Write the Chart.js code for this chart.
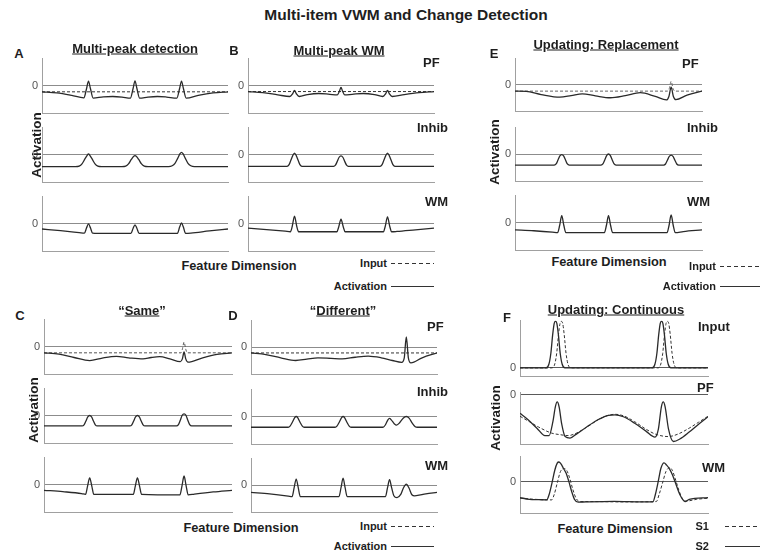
<!DOCTYPE html>
<html>
<head>
<meta charset="utf-8">
<script src="https://cdn.jsdelivr.net/npm/chart.js@4"></script>
<style>
body{margin:0;background:#fff}
#fig{position:relative;width:760px;height:553px;overflow:hidden;background:#fff;font-family:"Liberation Sans",Arial,sans-serif;color:#1e1e1e}
.t{position:absolute;white-space:nowrap;font-weight:bold;line-height:1}
.c{transform:translate(-50%,-50%)}
.l{transform:translateY(-50%)}
.r{transform:translate(-100%,-50%)}
.v{transform:translate(-50%,-50%) rotate(-90deg)}
canvas{position:absolute}
.key{position:absolute;height:1px}
</style>
</head>
<body>
<div id="fig"></div>
<script>
// ---- data: [feature position (0-100), activation] ----
// A: multi-peak detection
const aPfInput = [[0,-0.23],[100,-0.23]];
const aPfAct = [[0,-0.23],[8,-0.27],[16,-0.36],[22.5,-0.45],[24,-0.1],[25,0.16],[26,-0.1],[27.5,-0.46],[33,-0.41],[38,-0.40],[43,-0.42],[47.5,-0.46],[49,-0.1],[50,0.17],[51,-0.1],[52.5,-0.46],[57,-0.42],[62,-0.40],[67,-0.42],[72.5,-0.46],[74,-0.1],[75,0.16],[76,-0.1],[77.5,-0.46],[84,-0.36],[92,-0.27],[100,-0.23]];
const aInhib = [[0,-0.44],[18,-0.44],[20,-0.42],[21.5,-0.34],[23,-0.17],[24.2,-0.04],[25,0.02],[25.8,-0.04],[27,-0.17],[28.5,-0.34],[30,-0.42],[32,-0.44],[43,-0.44],[45,-0.42],[46.5,-0.34],[48,-0.18],[49.2,-0.07],[50,-0.04],[50.8,-0.07],[52,-0.18],[53.5,-0.34],[55,-0.42],[57,-0.44],[68,-0.44],[70,-0.41],[71.5,-0.32],[73,-0.13],[74.2,0.03],[75,0.08],[75.8,0.03],[77,-0.13],[78.5,-0.32],[80,-0.41],[82,-0.44],[100,-0.44]];
const aWm = [[0,-0.20],[10,-0.26],[20,-0.33],[22.8,-0.35],[24,-0.15],[25,-0.01],[26,-0.15],[27.2,-0.35],[30,-0.36],[47.8,-0.36],[49,-0.17],[50,-0.05],[51,-0.17],[52.2,-0.36],[72.8,-0.36],[74,-0.13],[75,0.02],[76,-0.13],[77.2,-0.36],[80,-0.35],[90,-0.27],[100,-0.20]];

// B: multi-peak WM
const bPfInput = [[0,-0.22],[100,-0.22]];
const bPfAct = [[0,-0.22],[8,-0.26],[16,-0.34],[22.5,-0.40],[24,-0.3],[25,-0.18],[26,-0.3],[27.5,-0.40],[32,-0.33],[38,-0.29],[44,-0.32],[48,-0.34],[49.2,-0.2],[50,-0.07],[50.8,-0.2],[52,-0.34],[56,-0.32],[62,-0.29],[68,-0.33],[72.5,-0.40],[74,-0.3],[75,-0.18],[76,-0.3],[77.5,-0.40],[84,-0.33],[92,-0.26],[100,-0.22]];
const bInhib = [[0,-0.43],[21,-0.43],[22,-0.38],[23,-0.22],[24,-0.05],[25,0.05],[26,-0.05],[27,-0.22],[28,-0.38],[29,-0.43],[46,-0.43],[47,-0.39],[48,-0.25],[49,-0.1],[50,-0.05],[51,-0.1],[52,-0.25],[53,-0.39],[54,-0.43],[71,-0.43],[72,-0.38],[73,-0.22],[74,-0.05],[75,0.05],[76,-0.05],[77,-0.22],[78,-0.38],[79,-0.43],[100,-0.43]];
const bWm = [[0,-0.17],[10,-0.22],[20,-0.28],[22.8,-0.30],[23.8,-0.1],[25,0.27],[26.2,-0.1],[27.2,-0.30],[47.8,-0.30],[48.8,-0.12],[50,0.16],[51.2,-0.12],[52.2,-0.30],[72.8,-0.30],[73.8,-0.1],[75,0.24],[76.2,-0.1],[77.2,-0.30],[80,-0.29],[90,-0.23],[100,-0.17]];

// E: updating, replacement
const ePfInput = [[0,-0.25],[81.5,-0.25],[82.5,-0.15],[83.5,0.12],[84.5,-0.15],[85.5,-0.25],[100,-0.25]];
const ePfAct = [[0,-0.25],[6,-0.26],[14,-0.38],[24,-0.48],[30,-0.42],[36,-0.35],[43,-0.43],[51,-0.50],[59,-0.42],[67,-0.31],[75,-0.45],[81,-0.58],[82.3,-0.45],[83.5,-0.1],[84.7,-0.45],[86,-0.57],[92,-0.40],[100,-0.25]];
const eInhib = [[0,-0.41],[21,-0.41],[22,-0.37],[23,-0.22],[24,-0.07],[25,-0.02],[26,-0.07],[27,-0.22],[28,-0.37],[29,-0.41],[46,-0.41],[47,-0.37],[48,-0.22],[49,-0.06],[50,0],[51,-0.06],[52,-0.22],[53,-0.37],[54,-0.41],[79.5,-0.41],[80.5,-0.37],[81.5,-0.23],[82.5,-0.09],[83.5,-0.04],[84.5,-0.09],[85.5,-0.23],[86.5,-0.37],[87.5,-0.41],[100,-0.41]];
const eWm = [[0,-0.27],[10,-0.30],[20,-0.35],[22.8,-0.37],[23.9,-0.1],[25,0.25],[26.1,-0.1],[27.2,-0.37],[47.8,-0.37],[48.9,-0.1],[50,0.25],[51.1,-0.1],[52.2,-0.37],[81.3,-0.37],[82.4,-0.1],[83.5,0.28],[84.6,-0.1],[85.7,-0.37],[90,-0.33],[100,-0.27]];

// C: "same"
const cPfInput = [[0,-0.23],[72.8,-0.23],[73.6,-0.1],[74.5,0.16],[75.4,-0.1],[76.2,-0.23],[100,-0.23]];
const cPfAct = [[0,-0.23],[8,-0.28],[16,-0.40],[24.3,-0.51],[31,-0.42],[38.5,-0.36],[45,-0.41],[52.7,-0.45],[57,-0.40],[61.5,-0.37],[67,-0.45],[72.5,-0.55],[73.6,-0.45],[74.5,-0.2],[75.4,-0.45],[76.6,-0.57],[84,-0.42],[92,-0.29],[100,-0.23]];
const cInhib = [[0,-0.38],[20.3,-0.38],[21.3,-0.34],[22.3,-0.2],[23.3,-0.05],[24.3,0],[25.3,-0.05],[26.3,-0.2],[27.3,-0.34],[28.3,-0.38],[45.7,-0.38],[46.7,-0.34],[47.7,-0.2],[48.7,-0.05],[49.7,0],[50.7,-0.05],[51.7,-0.2],[52.7,-0.34],[53.7,-0.38],[70.5,-0.38],[71.5,-0.33],[72.5,-0.17],[73.5,0.01],[74.5,0.06],[75.5,0.01],[76.5,-0.17],[77.5,-0.33],[78.5,-0.38],[100,-0.38]];
const cWm = [[0,-0.21],[10,-0.26],[20,-0.33],[22.1,-0.36],[23.2,-0.05],[24.3,0.24],[25.4,-0.05],[26.5,-0.36],[47.5,-0.36],[48.6,-0.05],[49.7,0.24],[50.8,-0.05],[51.9,-0.36],[72.3,-0.38],[73.4,-0.05],[74.5,0.31],[75.6,-0.05],[76.7,-0.38],[80,-0.35],[90,-0.27],[100,-0.21]];

// D: "different"
const dPfInput = [[0,-0.22],[100,-0.22]];
const dPfAct = [[0,-0.22],[8,-0.28],[16,-0.40],[24,-0.50],[30,-0.45],[36,-0.40],[43,-0.42],[49,-0.44],[56,-0.38],[63,-0.34],[70,-0.40],[76,-0.50],[81,-0.57],[82.4,-0.4],[83.5,0.37],[84.6,-0.4],[86,-0.59],[92,-0.40],[100,-0.22]];
const dInhib = [[0,-0.39],[20,-0.39],[21,-0.35],[22.3,-0.2],[23.5,-0.04],[24.3,0],[25.1,-0.04],[26.3,-0.2],[27.6,-0.35],[28.6,-0.39],[45.2,-0.39],[46.2,-0.35],[47.5,-0.2],[48.7,-0.04],[49.5,0],[50.3,-0.04],[51.5,-0.2],[52.8,-0.35],[53.8,-0.39],[71,-0.39],[72.3,-0.3],[73.6,-0.12],[74.5,-0.07],[75.5,-0.13],[77,-0.26],[78.3,-0.31],[80,-0.22],[81.8,-0.06],[83.5,0],[85,-0.06],[86.8,-0.25],[88.3,-0.37],[89.5,-0.39],[100,-0.39]];
const dWm = [[0,-0.27],[10,-0.33],[20,-0.41],[22.1,-0.43],[23.2,-0.1],[24.3,0.22],[25.4,-0.1],[26.5,-0.43],[47.3,-0.43],[48.4,-0.1],[49.5,0.25],[50.6,-0.1],[51.7,-0.43],[72.3,-0.43],[73.4,-0.1],[74.5,0.2],[75.6,-0.1],[76.8,-0.40],[78.5,-0.47],[80.5,-0.35],[82,-0.1],[83.5,0.03],[85,-0.12],[86.5,-0.36],[88,-0.40],[94,-0.33],[100,-0.27]];

// F: updating, continuous (S1 dashed, S2 solid)
const fInS1 = [[0,0],[17,0],[18.5,0.08],[19.5,0.3],[20.5,0.7],[21.3,0.93],[22,0.97],[22.7,0.93],[23.5,0.7],[24.5,0.3],[25.5,0.08],[27,0],[73.4,0],[74.9,0.08],[75.9,0.3],[76.9,0.7],[77.7,0.93],[78.4,0.97],[79.1,0.93],[79.9,0.7],[80.9,0.3],[81.9,0.08],[83.4,0],[100,0]];
const fInS2 = [[0,0],[13.9,0],[15.4,0.08],[16.4,0.3],[17.4,0.7],[18.2,0.93],[18.9,0.97],[19.6,0.93],[20.4,0.7],[21.4,0.3],[22.4,0.08],[23.9,0],[70.3,0],[71.8,0.08],[72.8,0.3],[73.8,0.7],[74.6,0.93],[75.3,0.97],[76,0.93],[76.8,0.7],[77.8,0.3],[78.8,0.08],[80.3,0],[100,0]];
const fPfS1 = [[0,-0.44],[5,-0.55],[10,-0.66],[16.8,-0.78],[21,-0.81],[25.7,-0.83],[30,-0.78],[36,-0.65],[42,-0.50],[47,-0.42],[50.5,-0.40],[55,-0.43],[61,-0.55],[67,-0.70],[72,-0.80],[78.9,-0.85],[84,-0.80],[90,-0.68],[95,-0.56],[100,-0.44]];
const fPfS2 = [[0,-0.38],[4,-0.50],[9,-0.68],[13.3,-0.83],[15.5,-0.83],[17.5,-0.55],[18.8,-0.25],[19.8,-0.15],[20.8,-0.25],[22.2,-0.6],[24,-0.85],[26.6,-0.88],[30,-0.80],[36,-0.64],[42,-0.50],[47,-0.42],[50.5,-0.41],[55,-0.45],[61,-0.58],[67,-0.74],[71.8,-0.86],[73.6,-0.7],[75.2,-0.25],[76.2,-0.15],[77.2,-0.25],[79,-0.7],[81.6,-0.95],[85,-0.90],[90,-0.76],[95,-0.60],[100,-0.45]];
const fWmS1 = [[0,-0.58],[8,-0.62],[16.8,-0.64],[18.2,-0.45],[19.8,-0.05],[21.5,0.35],[23.4,0.46],[24.8,0.40],[26.3,0.15],[28,-0.25],[29.8,-0.58],[31.9,-0.70],[40,-0.70],[55,-0.71],[72.5,-0.70],[74,-0.45],[75.8,-0.05],[77.6,0.35],[79.6,0.49],[81,0.40],[82.6,0.1],[84.5,-0.3],[86.4,-0.6],[88.5,-0.68],[94,-0.62],[100,-0.58]];
const fWmS2 = [[0,-0.56],[5,-0.62],[10,-0.63],[14.2,-0.64],[15.5,-0.45],[17,-0.05],[18.5,0.4],[19.8,0.65],[20.7,0.69],[21.8,0.62],[23,0.48],[24.5,0.30],[26,0],[27.5,-0.35],[29,-0.62],[31,-0.72],[35,-0.71],[50,-0.69],[65,-0.71],[70.7,-0.71],[72,-0.45],[73.5,0],[75,0.48],[76.6,0.66],[78,0.58],[79.5,0.45],[81,0.25],[83,-0.1],[85,-0.45],[87.8,-0.70],[90,-0.62],[100,-0.56]];

// ---- drawing ----
const FONT = '"Liberation Sans", Arial, sans-serif';
Chart.defaults.font.family = FONT;
const fig = document.getElementById('fig');
const AXW = 16, PT = 7, PB = 3, PR = 3;
const LINE = '#2a2a2a', AXIS = '#a0a0a0', ZERO = '#8c8c8c', ZERO_F = '#5a5a5a';

function pts(a) { return a.map(p => ({x: p[0], y: p[1]})); }

function act(d) { return {d: d, c: LINE, w: 1.3}; }
function inp(d, c) { return {d: d, c: c || '#333', w: 1, dash: [3, 2]}; }

function plot(x, y, w, h, ymin, ymax, series, zc) {
  const cv = document.createElement('canvas');
  const W = AXW + w + PR, H = PT + h + PB;
  cv.width = W; cv.height = H;
  cv.style.left = (x - AXW) + 'px';
  cv.style.top = (y - PT) + 'px';
  cv.style.width = W + 'px';
  cv.style.height = H + 'px';
  fig.appendChild(cv);
  new Chart(cv, {
    type: 'line',
    data: {
      datasets: series.map(s => ({
        data: pts(s.d),
        borderColor: s.c,
        borderWidth: s.w,
        borderDash: s.dash || [],
        pointRadius: 0,
        fill: false,
        cubicInterpolationMode: 'monotone'
      }))
    },
    options: {
      responsive: false,
      animation: false,
      devicePixelRatio: 1,
      events: [],
      layout: {padding: {top: PT, right: PR, bottom: 0, left: 0}},
      plugins: {legend: {display: false}, tooltip: {enabled: false}},
      scales: {
        x: {
          type: 'linear', min: 0, max: 100,
          ticks: {display: false},
          grid: {display: false},
          border: {color: AXIS, width: 1},
          afterFit: s => { s.height = PB; s.paddingLeft = 0; s.paddingRight = 0; }
        },
        y: {
          min: ymin, max: ymax,
          afterBuildTicks: s => { s.ticks = [{value: 0}]; },
          ticks: {color: '#555', font: {size: 11}, padding: 4},
          grid: {color: zc || ZERO, drawTicks: false, lineWidth: 1},
          border: {color: AXIS, width: 1},
          afterFit: s => { s.width = AXW; s.paddingTop = 0; s.paddingBottom = 0; }
        }
      }
    }
  });
}

function label(html, x, y, cls, size) {
  const el = document.createElement('div');
  el.className = 't ' + cls;
  el.style.left = x + 'px';
  el.style.top = y + 'px';
  el.style.fontSize = size + 'px';
  el.innerHTML = html;
  fig.appendChild(el);
}

function key(x1, x2, y, dashed) {
  const el = document.createElement('div');
  el.className = 'key';
  el.style.left = x1 + 'px';
  el.style.top = y + 'px';
  el.style.width = (x2 - x1) + 'px';
  el.style.background = dashed
    ? 'repeating-linear-gradient(90deg,#333 0 4px,transparent 4px 7px)'
    : '#333';
  fig.appendChild(el);
}

// A
plot(42, 58, 186, 55, -1, 1, [act(aPfAct), inp(aPfInput)]);
plot(42, 127, 186, 55, -1, 1, [act(aInhib)]);
plot(42, 196, 186, 55, -1, 1, [act(aWm)]);
// B
plot(248, 58, 186, 55, -1, 1, [act(bPfAct), inp(bPfInput)]);
plot(248, 127, 186, 55, -1, 1, [act(bInhib)]);
plot(248, 196, 186, 55, -1, 1, [act(bWm)]);
// E
plot(515, 58, 187, 53, -1, 1, [act(ePfAct), inp(ePfInput, '#666')]);
plot(515, 127, 187, 54, -1, 1, [act(eInhib)]);
plot(515, 195, 187, 55, -1, 1, [act(eWm)]);
// C
plot(44, 319, 188, 55, -1, 1, [act(cPfAct), inp(cPfInput, '#555')]);
plot(44, 388, 188, 55, -1, 1, [act(cInhib)]);
plot(44, 457, 188, 55, -1, 1, [act(cWm)]);
// D
plot(251, 320, 186, 54, -1, 1, [act(dPfAct), inp(dPfInput)]);
plot(251, 389, 186, 55, -1, 1, [act(dInhib)]);
plot(251, 458, 186, 54, -1, 1, [act(dWm)]);
// F
plot(520, 320, 188, 56, -0.17, 1, [act(fInS2), inp(fInS1)], ZERO_F);
plot(520, 392, 188, 52, -1, 0.05, [act(fPfS2), inp(fPfS1)], ZERO_F);
plot(520, 456, 188, 57, -1.1, 0.9, [act(fWmS2), inp(fWmS1)], ZERO_F);

// text
label('Multi-item VWM and Change Detection', 406, 15, 'c', 15.5);

label('A', 19, 53, 'c', 13);
label('B', 234, 50, 'c', 13);
label('E', 494, 53, 'c', 13);
label('C', 20, 315, 'c', 13);
label('D', 233, 315, 'c', 13);
label('F', 507, 317, 'c', 13);

label('<u>Multi-peak detection</u>', 135, 48, 'c', 13);
label('<u>Multi-peak WM</u>', 339, 50, 'c', 13);
label('<u>Updating: Replacement</u>', 606, 44, 'c', 13);
label('\u201c<u>Same</u>\u201d', 142, 310, 'c', 13);
label('\u201c<u>Different</u>\u201d', 343, 310, 'c', 13);
label('<u>Updating: Continuous</u>', 616, 309, 'c', 13);

label('PF', 423, 62, 'l', 13);
label('Inhib', 417, 127, 'l', 13);
label('WM', 425, 201, 'l', 13);
label('PF', 682, 63, 'l', 13);
label('Inhib', 687, 127, 'l', 13);
label('WM', 687, 201, 'l', 13);
label('PF', 427, 326, 'l', 13);
label('Inhib', 417, 391, 'l', 13);
label('WM', 425, 465, 'l', 13);
label('Input', 698, 326, 'l', 13);
label('PF', 697, 387, 'l', 13);
label('WM', 702, 467, 'l', 13);

label('Activation', 37, 145, 'v', 13.5);
label('Activation', 34, 410, 'v', 13.5);
label('Activation', 495, 152, 'v', 13.5);
label('Activation', 496, 418, 'v', 13.5);

label('Feature Dimension', 239, 266, 'c', 12.8);
label('Feature Dimension', 609, 262, 'c', 12.8);
label('Feature Dimension', 241, 528, 'c', 12.8);
label('Feature Dimension', 615, 529, 'c', 12.8);

// legends (text right-aligned against the key)
label('Input', 387, 263, 'r', 11);
key(391, 434, 263, true);
label('Activation', 387, 286, 'r', 11);
key(391, 434, 286, false);
label('Input', 716, 266, 'r', 11);
key(720, 760, 266, true);
label('Activation', 716, 286, 'r', 11);
key(720, 760, 286, false);
label('Input', 387, 526, 'r', 11);
key(391, 434, 526, true);
label('Activation', 387, 546, 'r', 11);
key(391, 434, 546, false);
label('S1', 709, 526, 'r', 11);
key(725, 760, 526, true);
label('S2', 709, 546, 'r', 11);
key(725, 760, 546, false);
</script>
</body>
</html>
